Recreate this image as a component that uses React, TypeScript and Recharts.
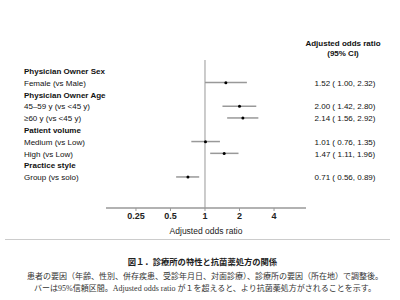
import { Bar, ComposedChart, Line, ReferenceLine, XAxis, YAxis } from "recharts";

const labels = [
  "Physician Owner Sex",
  "Female (vs Male)",
  "Physician Owner Age",
  "45–59 y (vs <45 y)",
  "≥60 y (vs <45 y)",
  "Patient volume",
  "Medium (vs Low)",
  "High (vs Low)",
  "Practice style",
  "Group (vs solo)",
];
const isHeader = [true, false, true, false, false, true, false, false, true, false];
const oddsRatio = [null, 1.52, null, 2.0, 2.14, null, 1.01, 1.47, null, 0.71];
const ciLow = [null, 1.0, null, 1.42, 1.56, null, 0.76, 1.11, null, 0.56];
const ciHigh = [null, 2.32, null, 2.8, 2.92, null, 1.35, 1.96, null, 0.89];
const xTicks = [0.25, 0.5, 1, 2, 4];

const data = labels.map((label, i) => ({
  label,
  or: oddsRatio[i],
  ci: ciLow[i] != null ? [ciLow[i], ciHigh[i]] : null,
}));

const sans = "'Liberation Sans', Arial, sans-serif";
const jp = "'Liberation Serif', 'Noto Sans CJK JP', serif";

function fmt(v: number) {
  return v.toFixed(2);
}

function RowTick(props: any) {
  const { y, payload, index } = props;
  const i = index ?? labels.indexOf(payload.value);
  const o = oddsRatio[i];
  return (
    <g>
      <text
        x={24}
        y={y}
        dy={3}
        textAnchor="start"
        fontSize={8}
        fontFamily={sans}
        fontWeight={isHeader[i] ? "bold" : "normal"}
        fill="#111"
      >
        {payload.value}
      </text>
      {o != null && (
        <text x={345} y={y} dy={3} textAnchor="middle" fontSize={8} fontFamily={sans} fill="#111">
          {`${fmt(o)} ( ${fmt(ciLow[i] as number)},  ${fmt(ciHigh[i] as number)})`}
        </text>
      )}
    </g>
  );
}

export default function App() {
  return (
    <div style={{ position: "absolute", left: 0, top: 0, width: 400, height: 300, background: "#fff" }}>
      <div
        style={{
          position: "absolute",
          left: 285,
          top: 39,
          width: 116,
          textAlign: "center",
          fontFamily: sans,
          fontWeight: "bold",
          fontSize: 8,
          lineHeight: "10px",
          color: "#111",
        }}
      >
        Adjusted odds ratio
        <br />
        (95% CI)
      </div>
      <ComposedChart
        width={400}
        height={240}
        data={data}
        layout="vertical"
        margin={{ top: 60, right: 94, bottom: 0, left: 0 }}
      >
        <XAxis
          type="number"
          scale="log"
          domain={[0.137, 7.6]}
          allowDataOverflow
          ticks={xTicks}
          tickFormatter={(v) => String(v)}
          height={32}
          axisLine={{ stroke: "#999", strokeWidth: 1.5 }}
          tickLine={{ stroke: "#999" }}
          tickSize={3}
          tick={{ fontSize: 9, fontWeight: "bold", fill: "#222", fontFamily: sans }}
          label={{
            value: "Adjusted odds ratio",
            position: "insideBottom",
            offset: 6,
            fontSize: 8.5,
            fill: "#222",
            fontFamily: sans,
          }}
        />
        <YAxis
          type="category"
          dataKey="label"
          width={106}
          axisLine={false}
          tickLine={false}
          padding={{ top: 5, bottom: 25 }}
          tick={<RowTick />}
          interval={0}
        />
        <ReferenceLine x={1} stroke="#999" strokeWidth={1} />
        <Bar dataKey="ci" fill="#999" barSize={1.5} isAnimationActive={false} />
        <Line
          dataKey="or"
          stroke="none"
          dot={{ r: 1.5, fill: "#000", stroke: "none" }}
          activeDot={false}
          isAnimationActive={false}
        />
      </ComposedChart>
      <div style={{ position: "absolute", left: 5, top: 239, width: 385, height: 1, background: "#ccc" }} />
      <div
        style={{
          position: "absolute",
          left: 0,
          top: 257,
          width: 405,
          textAlign: "center",
          fontFamily: jp,
          fontSize: 8.3,
          fontWeight: "bold",
          color: "#222",
          lineHeight: "12px",
          whiteSpace: "nowrap",
        }}
      >
        図１．診療所の特性と抗菌薬処方の関係
      </div>
      <div
        style={{
          position: "absolute",
          left: 0,
          top: 271,
          width: 410,
          textAlign: "center",
          fontFamily: jp,
          fontSize: 8,
          color: "#333",
          lineHeight: "12px",
          whiteSpace: "nowrap",
        }}
      >
        患者の要因（年齢、性別、併存疾患、受診年月日、対面診療）、診療所の要因（所在地）で調整後。
        <br />
        バーは95%信頼区間。Adjusted odds ratio が１を超えると、より抗菌薬処方がされることを示す。
      </div>
    </div>
  );
}
